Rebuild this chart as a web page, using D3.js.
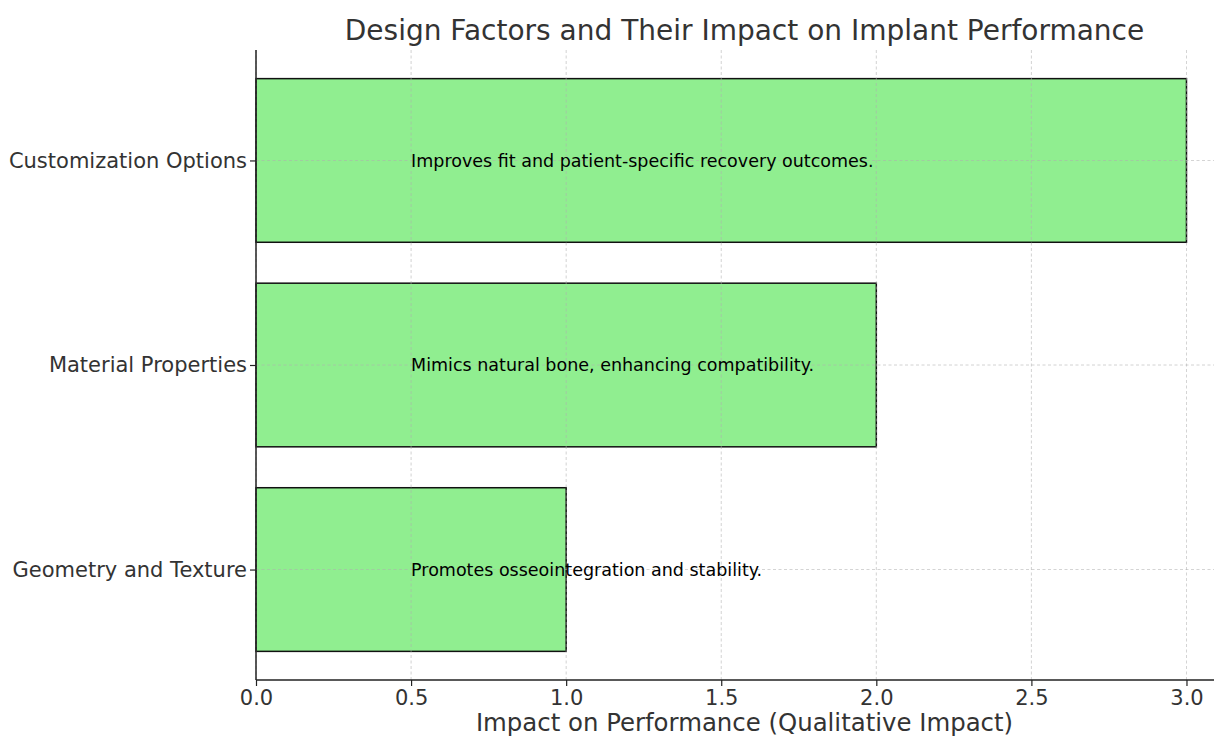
<!DOCTYPE html>
<html>
<head>
<meta charset="utf-8">
<script src="https://cdn.jsdelivr.net/npm/d3@7"></script>
<style>
  body { margin: 0; background: #fff; }
  svg { display: block; }
  text { font-family: "DejaVu Sans", sans-serif; }
</style>
</head>
<body>
<svg id="chart" width="1214" height="736"></svg>
<script>
const categories = ["Geometry and Texture", "Material Properties", "Customization Options"];
const impactValues = [1, 2, 3];
const annotations = [
  "Promotes osseointegration and stability.",
  "Mimics natural bone, enhancing compatibility.",
  "Improves fit and patient-specific recovery outcomes."
];
const xTickValues = [0.0, 0.5, 1.0, 1.5, 2.0, 2.5, 3.0];
const titleText = "Design Factors and Their Impact on Implant Performance";
const xLabelText = "Impact on Performance (Qualitative Impact)";

(function () {
const svg = d3.select("#chart");
const W = 1214, H = 736;
const pLeft = 256, pRight = 1233, pTop = 50, pBottom = 680;

const x = d3.scaleLinear().domain([0, 3.15]).range([pLeft, pRight]);
const y = d3.scaleLinear().domain([-0.54, 2.54]).range([pBottom, pTop]);
const barH = y(0) - y(0.8);

const data = categories.map((c, i) => ({ cat: c, val: impactValues[i], note: annotations[i], idx: i }));

// bars
svg.append("g").selectAll("rect").data(data).join("rect")
  .attr("x", x(0))
  .attr("y", d => y(d.idx + 0.4))
  .attr("width", d => x(d.val) - x(0))
  .attr("height", barH)
  .attr("fill", "#90ee90")
  .attr("stroke", "#111")
  .attr("stroke-width", 1.5);

// grid (on top of bars)
const grid = svg.append("g");
grid.selectAll("line.vx").data(xTickValues).join("line")
  .attr("x1", d => x(d)).attr("x2", d => x(d))
  .attr("y1", pTop).attr("y2", pBottom)
  .attr("stroke", "#b0b0b0").attr("stroke-width", 0.8)
  .attr("stroke-dasharray", "3,2.5").attr("opacity", 0.7);
grid.selectAll("line.hy").data(data).join("line")
  .attr("x1", pLeft).attr("x2", pRight)
  .attr("y1", d => y(d.idx)).attr("y2", d => y(d.idx))
  .attr("stroke", "#b0b0b0").attr("stroke-width", 0.8)
  .attr("stroke-dasharray", "3,2.5").attr("opacity", 0.7);

// annotations
svg.append("g").selectAll("text").data(data).join("text")
  .attr("x", x(0.5))
  .attr("y", d => y(d.idx))
  .attr("dy", "0.35em")
  .attr("font-size", 17.5)
  .attr("fill", "#000")
  .text(d => d.note);

// axes
const xAxis = d3.axisBottom(x).tickValues(xTickValues).tickFormat(d3.format(".1f")).tickSize(6).tickPadding(4);
const gx = svg.append("g").attr("transform", `translate(0,${pBottom})`).call(xAxis);
gx.select(".domain").remove();
gx.append("line").attr("x1", pLeft).attr("x2", W + 10).attr("stroke", "#222").attr("stroke-width", 1.5);
gx.selectAll(".tick line").attr("stroke", "#222").attr("stroke-width", 1.2);
gx.selectAll(".tick text").attr("font-size", 21).attr("fill", "#333").attr("font-family", "DejaVu Sans, sans-serif");

const yAxis = d3.axisLeft(y).tickValues(data.map(d => d.idx)).tickFormat(i => categories[i]).tickSize(6).tickPadding(3);
const gy = svg.append("g").attr("transform", `translate(${pLeft},0)`).call(yAxis);
gy.select(".domain").remove();
gy.append("line").attr("y1", pTop).attr("y2", pBottom).attr("stroke", "#222").attr("stroke-width", 1.5);
gy.selectAll(".tick line").attr("stroke", "#222").attr("stroke-width", 1.2);
gy.selectAll(".tick text").attr("font-size", 21).attr("fill", "#333").attr("font-family", "DejaVu Sans, sans-serif");

// title
svg.append("text").attr("x", (pLeft + pRight) / 2).attr("y", 40)
  .attr("text-anchor", "middle").attr("font-size", 28).attr("fill", "#333")
  .text(titleText);

// x label
svg.append("text").attr("x", (pLeft + pRight) / 2).attr("y", 731)
  .attr("text-anchor", "middle").attr("font-size", 24.4).attr("fill", "#333")
  .text(xLabelText);
})();
</script>
</body>
</html>
